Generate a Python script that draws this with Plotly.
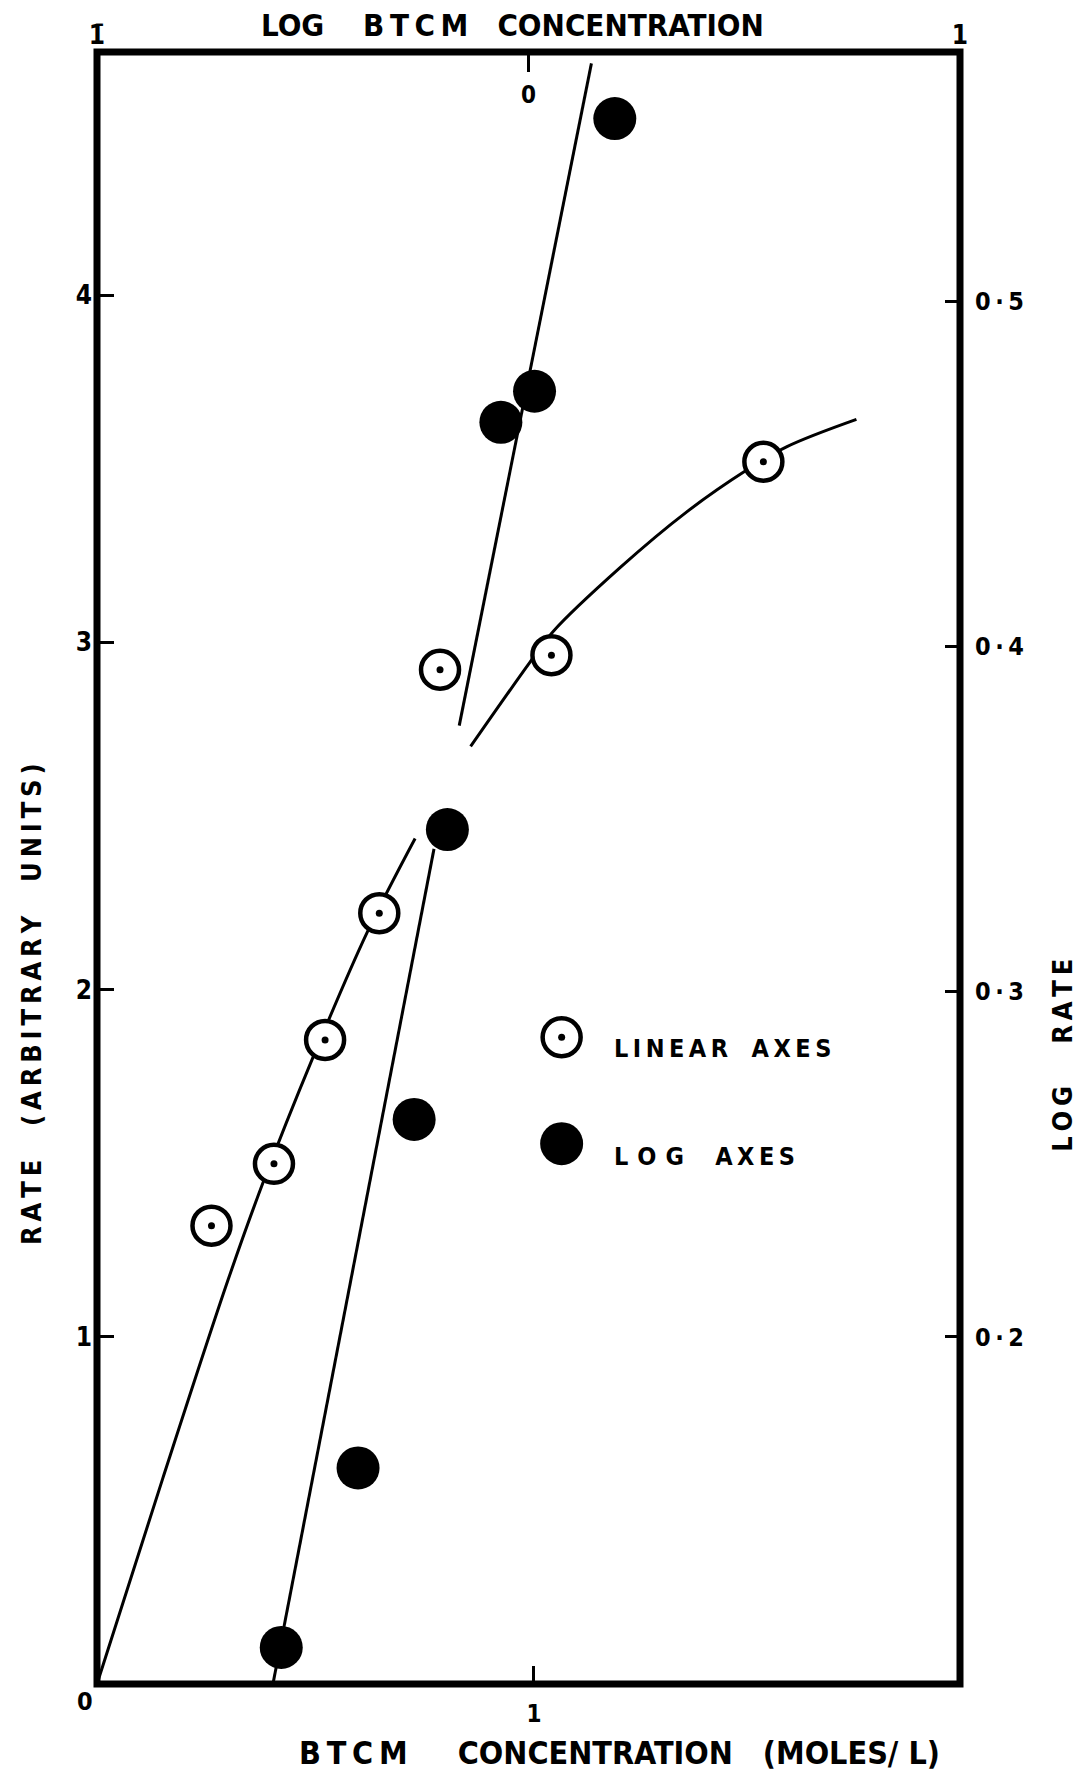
import plotly.graph_objects as go

# ---- measured rates, linear axes (bottom x / left y) ----
conc_lin = [0.262, 0.405, 0.522, 0.646, 0.785, 1.040, 1.525]
rate_lin = [1.320, 1.498, 1.855, 2.220, 2.921, 2.963, 3.520]

# ---- same runs on log axes (top x / right y) ----
log_conc = [-0.573, -0.395, -0.265, -0.188, -0.064, 0.014, 0.200]
log_rate = [0.110, 0.162, 0.263, 0.347, 0.465, 0.474, 0.553]

# ---- hand-drawn fitted curves ----
lin_fit_low_x = [0.0, 0.150, 0.300, 0.380, 0.494, 0.618, 0.728]
lin_fit_low_y = [0.0, 0.590, 1.164, 1.444, 1.804, 2.164, 2.435]
lin_fit_high_x = [0.855, 0.991, 1.043, 1.197, 1.349, 1.487, 1.578, 1.738]
lin_fit_high_y = [2.700, 2.943, 3.030, 3.215, 3.375, 3.496, 3.563, 3.642]
log_fit_low_x = [-0.591, -0.219]
log_fit_low_y = [0.1002, 0.3414]
log_fit_high_x = [-0.1605, 0.1458]
log_fit_high_y = [0.3771, 0.569]

# ---- axes ----
x_range = [0, 1.975]
y_range = [0, 4.70]
x2_range = [-1, 1]
y2_range = [0.0994, 0.5723]
x_ticks, x_ticktext = [1], ["1"]
y_ticks, y_ticktext = [1, 2, 3, 4], ["1", "2", "3", "4"]
x2_ticks, x2_ticktext = [-1, 0, 1], ["1\u0304", "", "1"]
y2_ticks = [0.2, 0.3, 0.4, 0.5]
y2_ticktext = ["0\u2009·\u20092", "0\u2009·\u20093", "0\u2009·\u20094", "0\u2009·\u20095"]

FONT = "DejaVu Sans Condensed, DejaVu Sans, sans-serif"
INK = "black"
THIN = "\u2009"
NB = "\u00a0"


def spaced(word, gap=THIN):
    """Letter-space one word with thin spaces."""
    return gap.join(word)


top_title = "LOG" + NB * 4 + spaced("BTCM") + NB * 3 + "CONCENTRATION"
bottom_title = spaced("BTCM") + NB * 5 + "CONCENTRATION" + NB * 3 + "(MOLES/" + NB + "L)"
left_title = spaced("RATE") + NB * 4 + spaced("(ARBITRARY") + NB * 4 + spaced("UNITS)")
right_title = spaced("LOG") + NB * 5 + spaced("RATE")
key_lin_text = spaced("LINEAR") + NB * 3 + spaced("AXES")
key_log_text = spaced("LOG", THIN * 2) + NB * 4 + spaced("AXES")

fig = go.Figure()

# fitted curves (drawn under the markers)
line_style = dict(color=INK, width=3)
fig.add_trace(go.Scatter(x=lin_fit_low_x, y=lin_fit_low_y, mode="lines",
                         line=dict(shape="spline", smoothing=1.0, **line_style),
                         xaxis="x", yaxis="y", hoverinfo="skip"))
fig.add_trace(go.Scatter(x=lin_fit_high_x, y=lin_fit_high_y, mode="lines",
                         line=dict(shape="spline", smoothing=1.0, **line_style),
                         xaxis="x", yaxis="y", hoverinfo="skip"))
fig.add_trace(go.Scatter(x=log_fit_low_x, y=log_fit_low_y, mode="lines",
                         line=line_style, xaxis="x2", yaxis="y2", hoverinfo="skip"))
fig.add_trace(go.Scatter(x=log_fit_high_x, y=log_fit_high_y, mode="lines",
                         line=line_style, xaxis="x2", yaxis="y2", hoverinfo="skip"))

# linear-axes points: open circle with a centre dot
fig.add_trace(go.Scatter(x=conc_lin, y=rate_lin, mode="markers", name="LINEAR AXES",
                         marker=dict(symbol="circle", size=38, color="white",
                                     line=dict(color=INK, width=4.5)),
                         xaxis="x", yaxis="y"))
fig.add_trace(go.Scatter(x=conc_lin, y=rate_lin, mode="markers", hoverinfo="skip",
                         marker=dict(symbol="circle", size=7, color=INK),
                         xaxis="x", yaxis="y"))

# log-axes points: solid discs
fig.add_trace(go.Scatter(x=log_conc, y=log_rate, mode="markers", name="LOG AXES",
                         marker=dict(symbol="circle", size=43, color=INK),
                         xaxis="x2", yaxis="y2"))

tick_common = dict(ticks="inside", tickwidth=3, tickcolor=INK, showgrid=False,
                   zeroline=False, showline=False, fixedrange=True)

fig.update_layout(
    width=1079, height=1776,
    margin=dict(l=97, r=119, t=52, b=92),
    paper_bgcolor="white", plot_bgcolor="white",
    showlegend=False,
    font=dict(family=FONT, color=INK, weight="bold"),
    xaxis=dict(range=x_range, tickvals=x_ticks, ticktext=x_ticktext, ticklen=18,
               tickfont=dict(size=24, weight="bold"), ticklabelstandoff=13, **tick_common),
    yaxis=dict(range=y_range, tickvals=y_ticks, ticktext=y_ticktext, ticklen=17,
               tickfont=dict(size=26, weight="bold"), ticklabelstandoff=4, **tick_common),
    xaxis2=dict(range=x2_range, tickvals=x2_ticks, ticktext=x2_ticktext, ticklen=20,
                overlaying="x", side="top", anchor="y",
                tickfont=dict(size=26, weight="bold"), ticklabelstandoff=2, **tick_common),
    yaxis2=dict(range=y2_range, tickvals=y2_ticks, ticktext=y2_ticktext, ticklen=15,
                overlaying="y", side="right", anchor="x",
                tickfont=dict(size=25, weight="bold"), ticklabelstandoff=14, **tick_common),
)

# heavy frame round the plotting area
fig.add_shape(type="rect", xref="paper", yref="paper", x0=0, x1=1, y0=0, y1=1,
              line=dict(color=INK, width=7), layer="above")

annotations = [
    # axis captions
    dict(text=top_title, x=0.4815, y=1.0165, xref="paper", yref="paper", showarrow=False,
         font=dict(size=31), xanchor="center", yanchor="middle"),
    dict(text=bottom_title, x=0.605, y=-0.0425, xref="paper", yref="paper", showarrow=False,
         font=dict(size=32), xanchor="center", yanchor="middle"),
    dict(text=left_title, x=-0.0753, y=0.4167, xref="paper", yref="paper", showarrow=False,
         font=dict(size=27), textangle=-90, xanchor="center", yanchor="middle"),
    dict(text=right_title, x=1.118, y=0.3854, xref="paper", yref="paper", showarrow=False,
         font=dict(size=27), textangle=-90, xanchor="center", yanchor="middle"),
    # origin label and the zero of the log-concentration scale
    dict(text="0", x=0, y=0, xref="paper", yref="paper", showarrow=False,
         font=dict(size=25), xshift=-12, yshift=-17, xanchor="center", yanchor="middle"),
    dict(text="0", x=0, y=1, xref="x2", yref="paper", showarrow=False,
         font=dict(size=24), yshift=-43, xanchor="center", yanchor="middle"),
    # key
    dict(text=key_lin_text, x=0.5963, y=0.3891, xref="paper", yref="paper",
         showarrow=False, font=dict(size=25), xanchor="left", yanchor="middle"),
    dict(text=key_log_text, x=0.5963, y=0.3235, xref="paper", yref="paper",
         showarrow=False, font=dict(size=25), xanchor="left", yanchor="middle"),
]
fig.update_layout(annotations=annotations)

# key symbols
key_x = 0.5384
for ky, fill, lw, d in [(0.3963, "white", 4.5, 38), (0.3311, INK, 0, 43)]:
    fig.add_shape(type="circle", xref="paper", yref="paper", xsizemode="pixel", ysizemode="pixel",
                  xanchor=key_x, yanchor=ky, x0=-d / 2, x1=d / 2, y0=-d / 2, y1=d / 2,
                  fillcolor=fill, line=dict(color=INK, width=lw), layer="above")
fig.add_shape(type="circle", xref="paper", yref="paper", xsizemode="pixel", ysizemode="pixel",
              xanchor=key_x, yanchor=0.3963, x0=-3.5, x1=3.5, y0=-3.5, y1=3.5,
              fillcolor=INK, line=dict(width=0), layer="above")

fig.write_html("out.html")
